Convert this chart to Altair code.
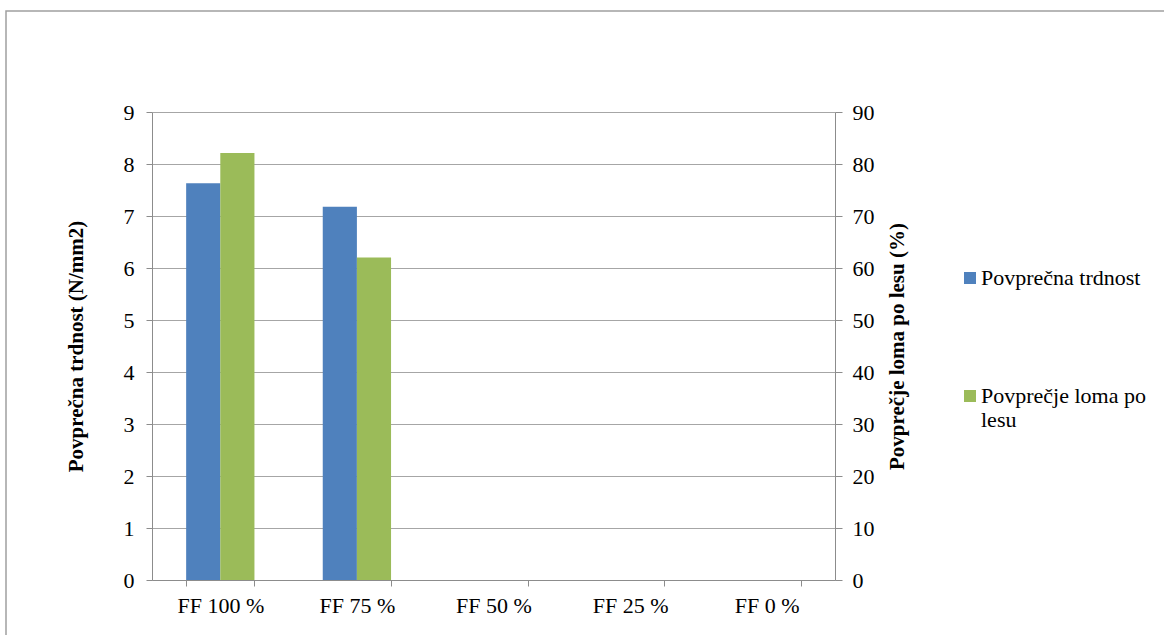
import altair as alt
import pandas as pd

# Categories and measured values
categories = ["FF 100 %", "FF 75 %", "FF 50 %", "FF 25 %", "FF 0 %"]
strength = [7.63, 7.18, None, None, None]          # N/mm2, left axis
wood_failure = [82.1, 62.0, None, None, None]      # %, right axis
series_names = ["Povprečna trdnost", "Povprečje loma po lesu"]
series_colors = ["#4F81BD", "#9BBB59"]

FONT = "Liberation Serif"
GRID = "#A6A6A6"
AXIS = "#8C8C8C"
LABEL_SIZE = 22
TITLE_SIZE = 21

df_strength = pd.DataFrame({"kategorija": categories, "vrednost": strength, "serija": series_names[0]})
df_wood = pd.DataFrame({"kategorija": categories, "vrednost": wood_failure, "serija": series_names[1]})

x_enc = alt.X(
    "kategorija:N",
    sort=categories,
    scale=alt.Scale(domain=categories, paddingInner=0.5, paddingOuter=0.25),
    axis=alt.Axis(title=None, labelAngle=0, tickBand="extent", grid=False,
                  labelFont=FONT, labelFontSize=LABEL_SIZE, labelColor="#000000",
                  labelPadding=9, domainColor=AXIS, tickColor=AXIS, tickSize=6),
)
xoff_enc = alt.XOffset("serija:N", sort=series_names, scale=alt.Scale(domain=series_names))
color_enc = alt.Color(
    "serija:N",
    scale=alt.Scale(domain=series_names, range=series_colors),
    legend=alt.Legend(
        title=None, orient="none", legendX=807, legendY=155,
        symbolType="square", symbolSize=144, symbolStrokeWidth=0,
        labelFont=FONT, labelFontSize=LABEL_SIZE, labelColor="#000000",
        labelLimit=300, rowPadding=96, labelOffset=0,
        labelExpr="datum.label == 'Povprečje loma po lesu' ? ['Povprečje loma po', 'lesu'] : datum.label",
    ),
)

left_bars = alt.Chart(df_strength).mark_bar().encode(
    x=x_enc,
    xOffset=xoff_enc,
    y=alt.Y("vrednost:Q", scale=alt.Scale(domain=[0, 9]),
            axis=alt.Axis(title="Povprečna trdnost (N/mm2)", orient="left",
                          values=list(range(10)), grid=True, gridColor=GRID,
                          domainColor=AXIS, tickColor=AXIS, tickSize=6,
                          labelFont=FONT, labelFontSize=LABEL_SIZE, labelColor="#000000",
                          labelPadding=12, titleFont=FONT, titleFontSize=TITLE_SIZE,
                          titleFontWeight="bold", titleColor="#000000", titlePadding=37)),
    color=color_enc,
)

right_bars = alt.Chart(df_wood).mark_bar().encode(
    x=x_enc,
    xOffset=xoff_enc,
    y=alt.Y("vrednost:Q", scale=alt.Scale(domain=[0, 90]),
            axis=alt.Axis(title="Povprečje loma po lesu (%)", orient="right",
                          values=list(range(0, 100, 10)), grid=False,
                          domainColor=AXIS, tickColor=AXIS, tickSize=7,
                          labelFont=FONT, labelFontSize=LABEL_SIZE, labelColor="#000000",
                          labelPadding=10, titleFont=FONT, titleFontSize=TITLE_SIZE,
                          titleFontWeight="bold", titleColor="#000000",
                          titleAngle=270, titlePadding=33)),
    color=color_enc,
)

# Outer chart frame (left and top edges visible)
frame = alt.Chart(pd.DataFrame({"f": [0]})).mark_rect(
    fill=None, stroke="#A0A0A0", strokeWidth=1.5, clip=False
).encode(
    x=alt.value(-146), x2=alt.value(1100),
    y=alt.value(-101), y2=alt.value(600),
)

chart = alt.layer(frame, left_bars, right_bars).resolve_scale(y="independent").properties(
    width=683, height=468,
    autosize=alt.AutoSizeParams(type="none"),
    padding={"left": 152, "top": 112, "right": 329, "bottom": 55},
    background="white",
).configure_view(stroke=None)

chart.save("out.html", embed_options={"renderer": "svg", "actions": False})
